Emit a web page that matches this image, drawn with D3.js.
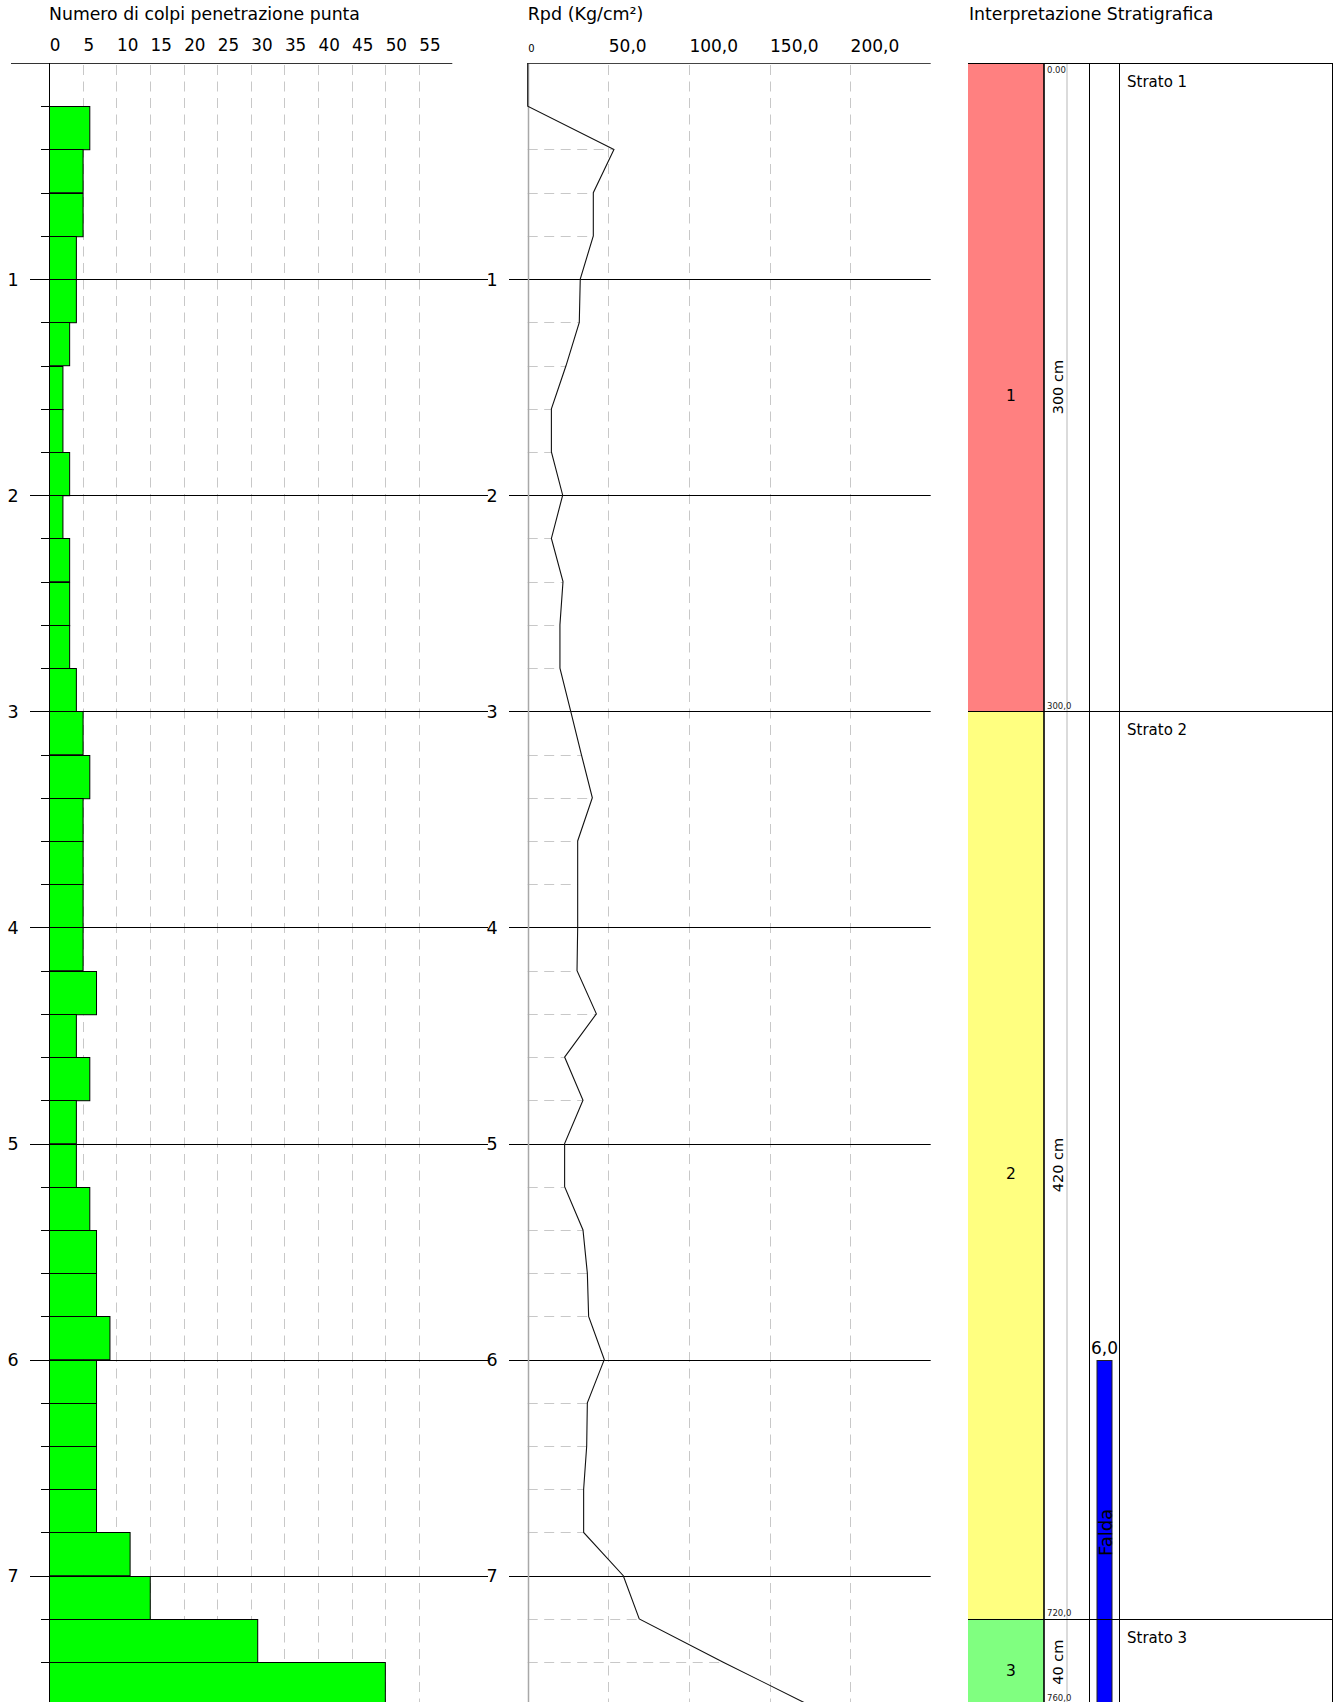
<!DOCTYPE html>
<html>
<head>
<meta charset="utf-8">
<script src="https://cdn.jsdelivr.net/npm/d3@7"></script>
<style>
  html, body { margin: 0; padding: 0; background: #fff; }
  svg { display: block; font-family: "DejaVu Sans", Verdana, sans-serif; }
</style>
</head>
<body>
<svg id="chart" width="1334" height="1702"></svg>
<script>
// Penetrometric test: blows per 20 cm interval, dynamic resistance, stratigraphy
const step = 0.2;
const blows = [0, 6, 5, 5, 4, 4, 3, 2, 2, 3, 2, 3, 3, 3, 4, 5, 6, 5, 5, 5,
               5, 7, 4, 6, 4, 4, 6, 7, 7, 9, 7, 7, 7, 7, 12, 15, 31, 50];
// Rpd (Kg/cm²) at the end of each interval, starting at depth 0
const rpd = [0, 0, 53.5, 40.7, 40.7, 32.6, 32.0, 23.8, 14.7, 14.7, 21.7, 14.7, 21.9,
             20.0, 20.0, 26.7, 33.3, 40.1, 31.0, 31.0, 31.0, 30.6, 42.6, 22.9, 34.3,
             22.9, 22.9, 34.3, 37.0, 37.8, 47.5, 37.0, 36.6, 34.7, 34.7, 59.3, 69.2,
             121.3, 175.0];
const depthLabels = [1, 2, 3, 4, 5, 6, 7];
const blowTicks = [0, 5, 10, 15, 20, 25, 30, 35, 40, 45, 50, 55];
const rpdTicks = [0, 50, 100, 150, 200];
const rpdTickLabels = ["0", "50,0", "100,0", "150,0", "200,0"];
const strataTop = [0, 300, 720];          // cm
const strataBottom = [300, 720, 760];     // cm
const strataIds = ["1", "2", "3"];
const strataNames = ["Strato 1", "Strato 2", "Strato 3"];
const strataTopLabels = ["0.00", "300,0", "720,0"];
const strataBottomLabels = ["300,0", "720,0", "760,0"];
const waterDepth = 6.0;                   // m
const waterLabel = "6,0";

const strataFill = ["#FF8080", "#FFFF80", "#80FF80"];

const svg = d3.select("#chart");
const W = 1334, H = 1702;

const y = d3.scaleLinear().domain([0, 7.6]).range([63, 63 + 7.6 * 216.1]);
const xN = d3.scaleLinear().domain([0, 60]).range([49.3, 452.3]);
const xR = d3.scaleLinear().domain([0, 250]).range([527.7, 930.7]);
const px = v => Math.round(v) + 0.5;

const intervals = blows.map((b, i) => ({ top: i * step, bottom: (i + 1) * step, n: b }));
const points = rpd.map((r, i) => ({ d: i * step, v: r }));

// ---------- Blow count panel ----------
const gN = svg.append("g");
gN.append("text").attr("x", 49).attr("y", 20).attr("font-size", 17.3)
  .text("Numero di colpi penetrazione punta");

gN.selectAll("text.tick").data(blowTicks).join("text")
  .attr("class", "tick")
  .attr("x", d => xN(d) + 0.5).attr("y", 50.5)
  .attr("font-size", 16.8)
  .text(d => d);

gN.selectAll("line.grid").data(blowTicks.filter(d => d > 0)).join("line")
  .attr("x1", d => px(xN(d))).attr("x2", d => px(xN(d)))
  .attr("y1", 65).attr("y2", H)
  .attr("stroke", "#c8c8c8").attr("stroke-width", 1).attr("stroke-dasharray", "10,6.5");

gN.selectAll("rect.bar").data(intervals.filter(d => d.n > 0)).join("rect")
  .attr("class", "bar")
  .attr("x", px(xN(0)))
  .attr("y", d => px(y(d.top)))
  .attr("width", d => xN(d.n) - xN(0))
  .attr("height", d => y(d.bottom) - y(d.top))
  .attr("fill", "#00FF00").attr("stroke", "#000").attr("stroke-width", 1);

// small ticks every 20 cm
gN.selectAll("line.minor").data(d3.range(1, 38)).join("line")
  .attr("x1", 41).attr("x2", px(xN(0)))
  .attr("y1", d => px(y(d * step))).attr("y2", d => px(y(d * step)))
  .attr("stroke", "#000");

gN.selectAll("line.meter").data(depthLabels).join("line")
  .attr("x1", 30).attr("x2", 488)
  .attr("y1", d => px(y(d))).attr("y2", d => px(y(d)))
  .attr("stroke", "#000");

gN.selectAll("text.depth").data(depthLabels).join("text")
  .attr("x", 13).attr("y", d => y(d) + 6.5)
  .attr("text-anchor", "middle").attr("font-size", 17.5)
  .text(d => d);

gN.append("line").attr("x1", 11).attr("x2", xN(60)).attr("y1", px(y(0))).attr("y2", px(y(0)))
  .attr("stroke", "#333");
gN.append("line").attr("x1", px(xN(0))).attr("x2", px(xN(0))).attr("y1", y(0)).attr("y2", H)
  .attr("stroke", "#000");

// ---------- Rpd panel ----------
const gR = svg.append("g");
gR.append("text").attr("x", 527.7).attr("y", 20).attr("font-size", 17.5).text("Rpd (Kg/cm²)");

gR.selectAll("text.tick").data(rpdTicks).join("text")
  .attr("x", d => xR(d) + 0.5).attr("y", 52)
  .attr("font-size", (d, i) => i === 0 ? 10 : 17)
  .text((d, i) => rpdTickLabels[i]);

gR.selectAll("line.grid").data(rpdTicks.filter(d => d > 0)).join("line")
  .attr("x1", d => px(xR(d))).attr("x2", d => px(xR(d)))
  .attr("y1", 65).attr("y2", H)
  .attr("stroke", "#c8c8c8").attr("stroke-dasharray", "10,6.5");

gR.selectAll("line.hdash").data(points.filter(p => p.d > 0.01 && Math.abs(p.d - Math.round(p.d)) > 0.01)).join("line")
  .attr("x1", xR(0)).attr("x2", p => xR(p.v))
  .attr("y1", p => px(y(p.d))).attr("y2", p => px(y(p.d)))
  .attr("stroke", "#c8c8c8").attr("stroke-dasharray", "10,6.5");

gR.selectAll("line.meter").data(depthLabels).join("line")
  .attr("x1", 509).attr("x2", xR(250))
  .attr("y1", d => px(y(d))).attr("y2", d => px(y(d)))
  .attr("stroke", "#000");

gR.selectAll("text.depth").data(depthLabels).join("text")
  .attr("x", 492).attr("y", d => y(d) + 6.5)
  .attr("text-anchor", "middle").attr("font-size", 17.5)
  .text(d => d);

gR.append("line").attr("x1", px(xR(0))).attr("x2", px(xR(0))).attr("y1", y(0)).attr("y2", H)
  .attr("stroke", "#a8a8a8").attr("stroke-width", 1.5);
gR.append("line").attr("x1", xR(0)).attr("x2", xR(250)).attr("y1", px(y(0))).attr("y2", px(y(0)))
  .attr("stroke", "#444");

const line = d3.line().x(p => xR(p.v)).y(p => y(p.d));
gR.append("path").datum(points).attr("d", line)
  .attr("fill", "none").attr("stroke", "#111").attr("stroke-width", 1.1);

// ---------- Stratigraphy panel ----------
const gS = svg.append("g");
const cx0 = 968, cx1 = 1044, cGray = 1067, cx2 = 1089.5, cx3 = 1119.5, cx4 = 1333;
const yc = cm => y(cm / 100);

gS.append("text").attr("x", 969).attr("y", 20).attr("font-size", 17.3)
  .text("Interpretazione Stratigrafica");

const layers = strataIds.map((id, i) => ({
  id, top: strataTop[i], bottom: strataBottom[i], name: strataNames[i],
  topLabel: strataTopLabels[i], bottomLabel: strataBottomLabels[i], fill: strataFill[i]
}));

gS.selectAll("rect.layer").data(layers).join("rect")
  .attr("x", cx0).attr("y", d => yc(d.top))
  .attr("width", cx1 - cx0).attr("height", d => yc(d.bottom) - yc(d.top))
  .attr("fill", d => d.fill);

gS.selectAll("text.lid").data(layers).join("text")
  .attr("x", (cx0 + cx1) / 2).attr("y", d => (yc(d.top) + yc(d.bottom)) / 2 + 14)
  .attr("font-size", 15.5).text(d => d.id);

gS.selectAll("text.thick").data(layers).join("text")
  .attr("transform", d => `translate(1058,${(yc(d.top) + yc(d.bottom)) / 2}) rotate(-90)`)
  .attr("text-anchor", "middle").attr("dominant-baseline", "central")
  .attr("font-size", 14.5).text(d => `${d.bottom - d.top} cm`);

gS.append("line").attr("x1", cGray).attr("x2", cGray).attr("y1", y(0)).attr("y2", H)
  .attr("stroke", "#cfcfcf").attr("stroke-width", 1.5);

gS.selectAll("text.bl").data(layers).join("text")
  .attr("x", 1047).attr("y", d => Math.min(yc(d.bottom) - 2.5, H - 1.5))
  .attr("font-size", 8.5).attr("fill", "#222").text(d => d.bottomLabel);
gS.append("text").attr("x", 1047).attr("y", y(0) + 9.5)
  .attr("font-size", 8.5).attr("fill", "#222").text(layers[0].topLabel);

gS.selectAll("text.name").data(layers).join("text")
  .attr("x", 1127).attr("y", d => yc(d.top) + 24)
  .attr("font-size", 15).text(d => d.name);

// water table
const wy = y(waterDepth);
gS.append("rect").attr("x", 1097).attr("y", px(wy)).attr("width", 15).attr("height", H - wy + 5)
  .attr("fill", "#0000FF").attr("stroke", "#222").attr("stroke-width", 1);
gS.append("text").attr("x", 1104.5).attr("y", wy - 6).attr("text-anchor", "middle")
  .attr("font-size", 17).text(waterLabel);
gS.append("text")
  .attr("transform", `translate(1105,${(wy + y(7.6)) / 2}) rotate(-90)`)
  .attr("text-anchor", "middle").attr("dominant-baseline", "central")
  .attr("font-size", 18).text("Falda");

// frame lines
gS.selectAll("line.bound").data([0].concat(strataBottom)).join("line")
  .attr("x1", cx0).attr("x2", cx4)
  .attr("y1", d => px(yc(d))).attr("y2", d => px(yc(d)))
  .attr("stroke", "#000");
[[cx1, 1.6], [cx2, 1], [cx3, 1], [cx4 - 0.5, 1]].forEach(([x, w]) => {
  gS.append("line").attr("x1", x).attr("x2", x).attr("y1", y(0)).attr("y2", H)
    .attr("stroke", "#000").attr("stroke-width", w);
});
</script>
</body>
</html>
